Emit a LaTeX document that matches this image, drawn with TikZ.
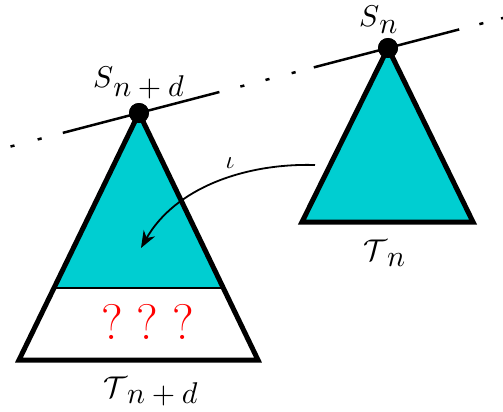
\documentclass[tikz,border=0pt]{standalone}
\usetikzlibrary{arrows.meta,calc}
\definecolor{tcyan}{RGB}{0,206,209}
\newcommand{\mylab}[3][2.3pt]{\scalebox{3}{$#2$\raisebox{-#1}{$#3$}}}
\begin{document}
\begin{tikzpicture}[x=1pt,y=-1pt,
  lbl/.style={inner sep=0pt,anchor=base west},
  qm/.style={inner sep=0pt,anchor=base,text=red,font=\fontsize{50}{56}\selectfont},
  tri/.style={line width=5pt,line join=miter},
  sline/.style={line width=2.5pt},
  apexdot/.style={circle,fill=black,minimum size=20pt,inner sep=0pt}]
\useasboundingbox (0,0) rectangle (503,412);
% left triangle
\coordinate (LA) at (139,113);
\coordinate (LL) at (19,360);
\coordinate (LR) at (258,360);
\coordinate (ML) at ($(LA)!0.7085!(LL)$);
\coordinate (MR) at ($(LA)!0.7085!(LR)$);
\fill[white] (LA)--(LL)--(LR)--cycle;
\fill[tcyan] (LA)--(ML)--(MR)--cycle;
\draw[line width=2.7pt] (ML)--(MR);
\draw[tri] (LA)--(LL)--(LR)--cycle;
% right triangle
\coordinate (RA) at (388,48);
\coordinate (RL) at (302,222);
\coordinate (RR) at (473,222);
\filldraw[tri,fill=tcyan] (RA)--(RL)--(RR)--cycle;
% dots (named)
\node[apexdot] (A) at (LA) {};
\node[apexdot] (B) at (RA) {};
% line
\draw[sline] ($(A.center)!-0.306!(B.center)$) -- ($(A.center)!0.323!(B.center)$);
\draw[sline] ($(A.center)!0.702!(B.center)$) -- ($(A.center)!1.286!(B.center)$);
\foreach \t in {-0.508,-0.399,0.415,0.516,0.621,1.375,1.462}
  \draw[sline] ($(A.center)!\t-0.008!(B.center)$) -- ($(A.center)!\t+0.008!(B.center)$);
\node[apexdot] at (A.center) {};
\node[apexdot] at (B.center) {};
% labels
\node[lbl] (SL) at (93,87) {\mylab[3.3pt]{S}{n+d}};
\node[lbl] (SR) at (359,27) {\mylab{S}{n}};
\node[lbl] (TR) at (363,260) {\mylab{\mathcal{T}}{n}};
\node[lbl] (TL) at (103,397) {\mylab{\mathcal{T}}{n+d}};
\node[inner sep=0pt,anchor=base] (iota) at (230,168) {\scalebox{2.5}{$\iota$}};
\node[qm] (q1) at (112.5,339) {?};
\node[qm] (q2) at (147.5,339) {?};
\node[qm] (q3) at (183,339) {?};
% arrow
\coordinate (is) at (315,165);
\coordinate (ie) at (141,248);
\draw[line width=1.8pt,-{Stealth[length=17pt,width=13pt]}] (is) .. controls (245,163) and (175,188) .. (ie);
\end{tikzpicture}
\end{document}
